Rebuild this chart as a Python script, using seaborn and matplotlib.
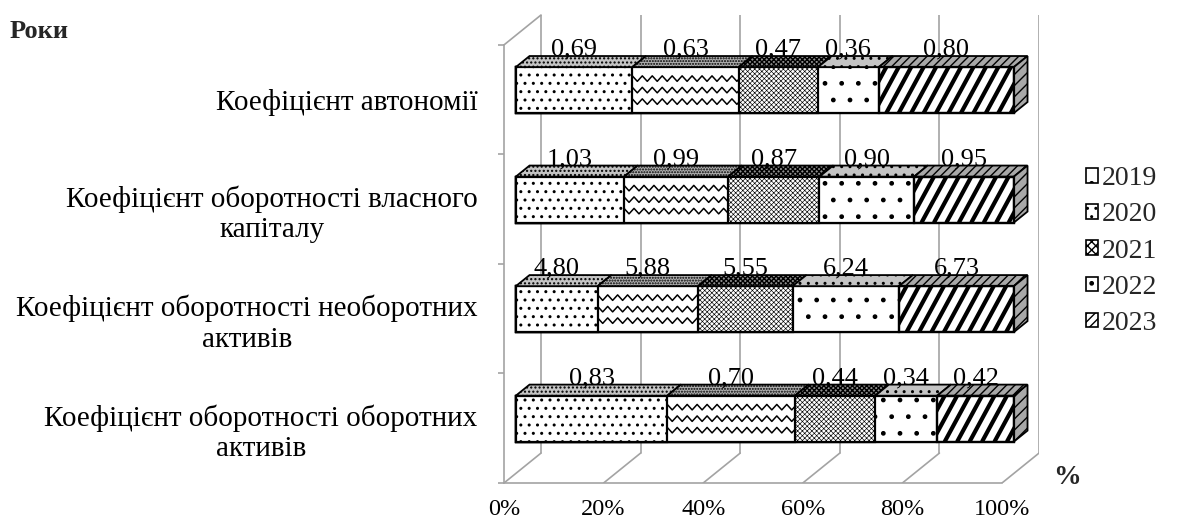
import numpy as np
import matplotlib
matplotlib.use("Agg")
import matplotlib.pyplot as plt
from matplotlib.patches import Polygon, Rectangle, Patch
import seaborn as sns

# ---- data -------------------------------------------------------------
categories = [
    "Коефіцієнт автономії",
    "Коефіцієнт оборотності власного\nкапіталу",
    "Коефіцієнт оборотності необоротних\nактивів",
    "Коефіцієнт оборотності оборотних\nактивів",
]
years = ["2019", "2020", "2021", "2022", "2023"]
v2019 = [0.69, 1.03, 4.80, 0.83]
v2020 = [0.63, 0.99, 5.88, 0.70]
v2021 = [0.47, 0.87, 5.55, 0.44]
v2022 = [0.36, 0.90, 6.24, 0.34]
v2023 = [0.80, 0.95, 6.73, 0.42]
x_ticks = [0, 20, 40, 60, 80, 100]
x_tick_labels = ["0%", "20%", "40%", "60%", "80%", "100%"]

# ---- style ------------------------------------------------------------
sns.set_theme(style="white")
plt.rcParams["font.family"] = ["Liberation Serif", "DejaVu Serif"]

GRID = "#a3a3a3"
values = np.array([v2019, v2020, v2021, v2022, v2023])
shares = values / values.sum(axis=0) * 100
cum = np.cumsum(shares, axis=0)
starts = cum - shares

# pseudo-3D box: depth shift from floor front (d=0) to back wall (d=1)
DX, DY = 7.43, -0.273
F0, F1 = 0.32, 0.69          # depth of bar front / back faces
BAR_H = 0.42


def P(v, y, d):
    return (v + (d - F0) * DX, y + (d - F0) * DY)


fig = plt.figure(figsize=(11.85, 5.25), dpi=100)
x_lo, x_hi = P(0, 0, 0)[0], P(100, 0, 1)[0]
y_bot, y_top = P(0, 3.5, 0)[1], P(0, -0.5, 1)[1]
ax_w = (x_hi - x_lo) * 4.98 / 1185
ax = fig.add_axes([504 / 1185, 42 / 525, ax_w, 468 / 525])

# ---- walls and floor --------------------------------------------------
for v in x_ticks:
    (xa, ya), (xb, yb) = P(v, -0.5, 1), P(v, 3.5, 1)
    ax.plot([xa, xb], [ya, yb], color=GRID, lw=1.2, zorder=0)
    (xa, ya), (xb, yb) = P(v, 3.5, 0), P(v, 3.5, 1)
    ax.plot([xa, xb], [ya, yb], color=GRID, lw=1.2, zorder=0)
(xa, ya), (xb, yb) = P(0, -0.5, 0), P(0, -0.5, 1)
ax.plot([xa, xb], [ya, yb], color=GRID, lw=1.2, zorder=0, clip_on=False)

# ---- bars (stacked via cumulative totals) -----------------------------
hatches = ["..", "", "xxxxxxx", ".", ""]
hatch_lw = [1.0, 1.0, 0.45, 1.0, 1.0]
top_colors = ["#c4c4c4", "#b0b0b0", "#8f8f8f", "#c4c4c4", "#a8a8a8"]
top_hatches = ["....", "......", "xxxxxxx", "..", "////"]
front_patches = {}
for j in reversed(range(len(years))):
    before = len(ax.patches)
    sns.barplot(x=cum[j], y=categories, orient="h", color="white",
                saturation=1, edgecolor="black", linewidth=1.6,
                width=BAR_H, errorbar=None, hatch=hatches[j], ax=ax,
                zorder=3)
    front_patches[j] = ax.patches[before:]
    for p in front_patches[j]:
        if hasattr(p, "set_hatch_linewidth"):
            p.set_hatch_linewidth(hatch_lw[j])

for i in range(len(categories)):
    # wavy texture for the 2020 segments
    a, b = starts[1][i], cum[1][i]
    clip = Rectangle((a, i - BAR_H / 2), b - a, BAR_H, transform=ax.transData)
    xs = np.arange(a - 1, b + 2, 1.0)
    for k in (1, 2, 3):
        y0 = i - BAR_H / 2 + k * BAR_H / 4
        ys = y0 + 0.025 * np.where(np.arange(len(xs)) % 2 == 0, 1, -1)
        ln, = ax.plot(xs, ys, color="black", lw=1.1, zorder=3.5)
        ln.set_clip_path(clip)
    # bold diagonal stripes for the 2023 segments
    a, b = starts[4][i], cum[4][i]
    clip = Rectangle((a, i - BAR_H / 2), b - a, BAR_H, transform=ax.transData)
    for x0 in np.arange(a - 6, b + 1, 2.5):
        ln, = ax.plot([x0, x0 + 5], [i + BAR_H / 2, i - BAR_H / 2],
                      color="black", lw=3.0, zorder=3.5, solid_capstyle="butt")
        ln.set_clip_path(clip)
    ax.add_patch(Rectangle((a, i - BAR_H / 2), b - a, BAR_H, fill=False,
                           edgecolor="black", lw=1.6, zorder=3.6))

# top faces and right side face
for j in range(len(years)):
    for i in range(len(categories)):
        a, b = starts[j][i], cum[j][i]
        yt = i - BAR_H / 2
        poly = Polygon([P(a, yt, F0), P(b, yt, F0), P(b, yt, F1), P(a, yt, F1)],
                       closed=True, facecolor=top_colors[j], edgecolor="black",
                       lw=1.3, hatch=top_hatches[j], zorder=3)
        ax.add_patch(poly)
        if j == len(years) - 1:
            yb_ = i + BAR_H / 2
            side = Polygon([P(b, yt, F0), P(b, yb_, F0), P(b, yb_, F1), P(b, yt, F1)],
                           closed=True, facecolor="#a8a8a8", edgecolor="black",
                           lw=1.3, hatch="///", zorder=3)
            ax.add_patch(side)
        ax.text((a + b) / 2, i - 0.315, f"{values[j][i]:.2f}".replace(".", ","),
                ha="center", va="baseline", fontsize=19, color="black", zorder=5)

# ---- axes -------------------------------------------------------------
ax.set_xlim(x_lo, x_hi)
ax.set_ylim(y_bot, y_top)
ax.set_xlabel("")
ax.set_ylabel("")
for s in ("top", "right"):
    ax.spines[s].set_visible(False)
for s in ("left", "bottom"):
    ax.spines[s].set_color(GRID)
    ax.spines[s].set_linewidth(1.2)
ax.spines["left"].set_bounds(P(0, -0.5, 0)[1], y_bot)
ax.spines["bottom"].set_bounds(x_lo, P(100, 0, 0)[0])

ax.set_xticks([P(v, 0, 0)[0] for v in x_ticks], x_tick_labels)
ax.tick_params(axis="x", which="major", length=4.3, width=1.2, color=GRID,
               labelsize=17.5, pad=7, labelcolor="black", direction="out")
ax.set_yticks([P(0, i, 0)[1] for i in range(len(categories))], categories,
              multialignment="center", linespacing=1.22)
ax.set_yticks([P(0, b, 0)[1] for b in np.arange(-0.5, 4.0, 1.0)], minor=True)
ax.tick_params(axis="y", which="major", length=0, labelsize=21, pad=19,
               labelcolor="black")
ax.tick_params(axis="y", which="minor", length=4.3, width=1.2, color=GRID,
               direction="out", left=True)

# ---- legend and captions ----------------------------------------------
leg_hatch = [".", "..", "xxxx", ".", "////"]
handles = [Patch(facecolor="white", edgecolor="black", hatch=h, lw=1.2)
           for h in leg_hatch]
fig.legend(handles, years, loc="center left",
           bbox_to_anchor=(1086 / 1185, 1 - 251 / 525), frameon=False,
           fontsize=20, handlelength=0.42, handleheight=0.42,
           handletextpad=0.15, labelspacing=0.4, borderaxespad=0,
           borderpad=0)

fig.text(10 / 1185, 1 - 32 / 525, "Роки", fontweight="bold", fontsize=19,
         ha="left", va="center")
fig.text(1067 / 1185, 1 - 478 / 525, "%", fontweight="bold", fontsize=20,
         ha="center", va="center")

fig.savefig("out.png", dpi=100)
